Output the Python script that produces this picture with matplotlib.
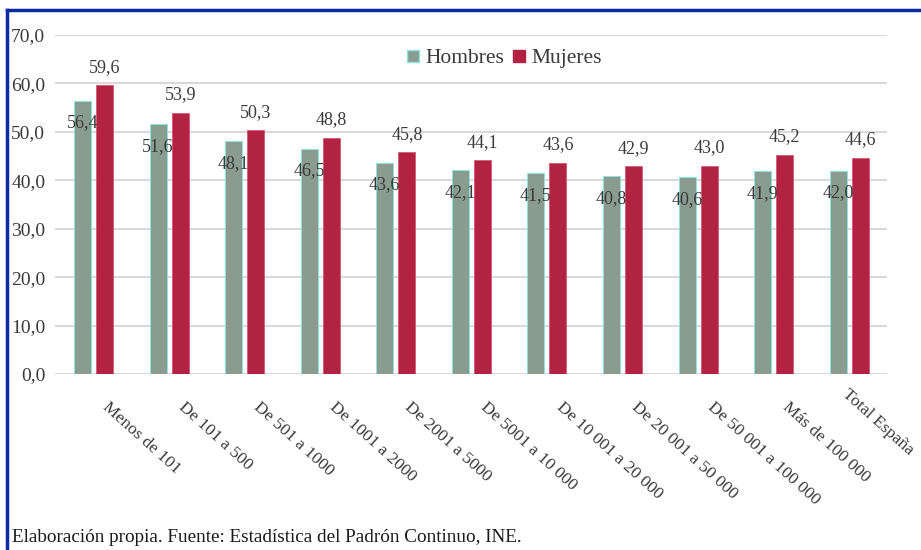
import numpy as np
import matplotlib.pyplot as plt
import matplotlib.transforms as mtransforms
from matplotlib.lines import Line2D

# Categorías por tamaño de municipio y edad media por sexo
categorias = ['Menos de 101', 'De 101 a 500', 'De 501 a 1000', 'De 1001 a 2000',
              'De 2001 a 5000', 'De 5001 a 10 000', 'De 10 001 a 20 000',
              'De 20 001 a 50 000', 'De 50 001 a 100 000', 'Más de 100 000',
              'Total España']
hombres = [56.4, 51.6, 48.1, 46.5, 43.6, 42.1, 41.5, 40.8, 40.6, 41.9, 42.0]
mujeres = [59.6, 53.9, 50.3, 48.8, 45.8, 44.1, 43.6, 42.9, 43.0, 45.2, 44.6]
yticks = np.arange(0, 71, 10)

color_h = '#8a9b90'
color_m = '#b22343'
gris_texto = '#3a3a3a'
plt.rcParams['font.family'] = ['Liberation Serif', 'DejaVu Serif']

fig = plt.figure(figsize=(9.21, 5.5), dpi=100)
ax = fig.add_axes([55 / 921, 1 - 374 / 550, 832 / 921, 339 / 550])

x = np.arange(len(categorias))
ancho = 0.225
desp = 0.146
ax.bar(x - desp, hombres, ancho, color=color_h, edgecolor='#8fe3e0',
       linewidth=0.7, zorder=2, label='Hombres')
ax.bar(x + desp, mujeres, ancho, color=color_m, edgecolor='#d0506a',
       linewidth=0.5, zorder=2, label='Mujeres')

# Etiquetas de valor
for xi, v in zip(x - desp, hombres):
    ax.annotate(f'{v:.1f}'.replace('.', ','), (xi, v), xytext=(0, -16),
                textcoords='offset points', ha='center', va='center',
                fontsize=13, color=gris_texto, zorder=3)
for xi, v in zip(x + desp, mujeres):
    ax.annotate(f'{v:.1f}'.replace('.', ','), (xi, v), xytext=(0, 13),
                textcoords='offset points', ha='center', va='center',
                fontsize=13, color=gris_texto, zorder=3)

ax.set_xlim(-0.51, 10.5)
ax.set_ylim(0, 70)
ax.set_yticks(yticks)
ax.set_yticklabels([f'{t:.1f}'.replace('.', ',') for t in yticks],
                   fontsize=14, color=gris_texto)
ax.tick_params(axis='y', length=0, pad=7)
ax.set_xticks([])
ax.grid(axis='y', color='#d9d9d9', linewidth=1.5, zorder=0)
ax.set_axisbelow(True)
for s in ax.spines.values():
    s.set_visible(False)

# Etiquetas del eje x giradas (la última se recoloca para que quepa)
base = mtransforms.blended_transform_factory(ax.transData, ax.transAxes)
for i, (xi, cat) in enumerate(zip(x, categorias)):
    dx, dy = (12 / 72, -18 / 72) if i < len(categorias) - 1 else (0, -9 / 72)
    off = mtransforms.ScaledTranslation(dx, dy, fig.dpi_scale_trans)
    ax.text(xi, 0, cat, transform=base + off, rotation=-42, rotation_mode='anchor',
            ha='left', va='top', fontsize=12.5, color=gris_texto)

handles = [Line2D([], [], marker='s', linestyle='', markersize=9,
                  markerfacecolor=color_h, markeredgecolor='#8fe3e0'),
           Line2D([], [], marker='s', linestyle='', markersize=9,
                  markerfacecolor=color_m, markeredgecolor=color_m)]
ax.legend(handles, ['Hombres', 'Mujeres'], loc='center', bbox_to_anchor=(0.54, 0.932),
          ncol=2, frameon=False, fontsize=15.5, handlelength=0.6,
          handletextpad=0.25, columnspacing=0.4, labelcolor=gris_texto)

# Marco azul y fuente
azul = '#0a2aa6'
fig.add_artist(Line2D([7 / 921, 1], [1 - 10 / 550, 1 - 10 / 550], color=azul,
                      linewidth=2.5, transform=fig.transFigure))
fig.add_artist(Line2D([7 / 921, 7 / 921], [0, 1 - 10 / 550], color=azul,
                      linewidth=2.5, transform=fig.transFigure))
fig.text(12 / 921, 1 - 537 / 550, 'Elaboración propia. Fuente: Estadística del Padrón Continuo, INE.',
         fontsize=13.8, color='#1a1a1a', va='center', ha='left')

fig.savefig('out.png', dpi=100)
